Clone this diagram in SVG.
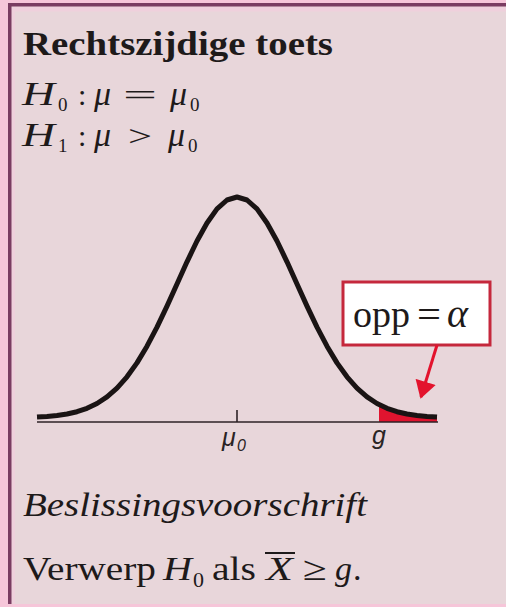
<svg xmlns="http://www.w3.org/2000/svg" width="506" height="607" viewBox="0 0 506 607">
<style>
.serif{font-family:"Liberation Serif","Times New Roman",serif;fill:#1e1a1a}
.it{font-style:italic}
.bold{font-weight:bold}
.sans{font-family:"Liberation Sans",Arial,sans-serif;font-style:italic;fill:#2a2424}
</style>
<defs>
<marker id="ah" viewBox="0 0 10 12" refX="9" refY="6" markerWidth="6" markerHeight="7" orient="auto" markerUnits="strokeWidth">
<path d="M0,0 L10,6 L0,12 z" fill="#e3132d"/>
</marker>
</defs>
<rect x="0" y="0" width="506" height="607" fill="#e8d6da"/>
<rect x="0" y="0" width="506" height="3" fill="#f6c6d9"/>
<rect x="0" y="0" width="8" height="607" fill="#f6c6d9"/>
<rect x="0" y="604" width="506" height="3" fill="#f6c6d9"/>
<rect x="8" y="6.5" width="498" height="5" fill="#efd0dc"/>
<rect x="11" y="6.5" width="4" height="597" fill="#efd0dc"/>
<rect x="8" y="3" width="498" height="3.5" fill="#7a3c61"/>
<rect x="8" y="3" width="3.5" height="601" fill="#7a3c61"/>

<g id="title">
<text class="serif bold" x="23" y="55" font-size="34" textLength="310" lengthAdjust="spacingAndGlyphs">Rechtszijdige toets</text>
</g>
<g id="h0">
<text class="serif it" x="22" y="105" font-size="33" textLength="33" lengthAdjust="spacingAndGlyphs">H</text>
<text class="serif" x="58" y="111" font-size="19">0</text>
<text class="serif" x="78" y="105" font-size="30">:</text>
<text class="serif it" x="94" y="105" font-size="34">μ</text>
<text class="serif" x="123" y="105" font-size="30" textLength="34" lengthAdjust="spacingAndGlyphs">=</text>
<text class="serif it" x="170" y="105" font-size="34">μ</text>
<text class="serif" x="190" y="111" font-size="19">0</text>
</g>
<g id="h1">
<text class="serif it" x="22" y="146" font-size="33" textLength="33" lengthAdjust="spacingAndGlyphs">H</text>
<text class="serif" x="58" y="152" font-size="19">1</text>
<text class="serif" x="78" y="146" font-size="30">:</text>
<text class="serif it" x="94" y="146" font-size="34">μ</text>
<text class="serif" x="128" y="146" font-size="30" textLength="24" lengthAdjust="spacingAndGlyphs">&gt;</text>
<text class="serif it" x="168" y="146" font-size="34">μ</text>
<text class="serif" x="188" y="152" font-size="19">0</text>
</g>

<g id="area">
<polygon points="379,404.5 387,408.3 397,411.7 407,414 417,415.5 427,416.5 437,417.1 437,422 379,422" fill="#e0142f"/>
</g>
<g id="axis">
<line x1="37" y1="422" x2="438" y2="422" stroke="#2e2226" stroke-width="1.6"/>
<line x1="237" y1="410" x2="237" y2="422" stroke="#2e2226" stroke-width="1.6"/>
</g>
<g id="curve">
<path d="M37,417.1 L47,416.5 L57,415.5 L67,414 L77,411.7 L87,408.3 L97,403.5 L107,396.9 L117,388.1 L127,376.8 L137,362.9 L147,346.2 L157,327.1 L167,306.1 L177,284 L187,261.8 L197,241 L207,223 L217,208.9 L227,200 L237,197 L247,200 L257,208.9 L267,223 L277,241 L287,261.8 L297,284 L307,306.1 L317,327.1 L327,346.2 L337,362.9 L347,376.8 L357,388.1 L367,396.9 L377,403.5 L387,408.3 L397,411.7 L407,414 L417,415.5 L427,416.5 L437,417.1" fill="none" stroke="#1a1414" stroke-width="5" stroke-linejoin="round"/>
</g>
<g id="labels">
<text class="sans" x="222" y="446" font-size="25">μ</text>
<text class="sans" x="237" y="451" font-size="16" font-style="normal">0</text>
<text class="sans" x="372" y="444" font-size="25">g</text>
</g>

<g id="callout">
<rect x="343" y="282" width="147" height="63" fill="#ffffff" stroke="#c5283c" stroke-width="3"/>
<text class="serif" x="353" y="327" font-size="37" textLength="57" lengthAdjust="spacingAndGlyphs">opp</text>
<text class="serif" x="417" y="327" font-size="37" textLength="24" lengthAdjust="spacingAndGlyphs">=</text>
<text class="serif it" x="447" y="327" font-size="40">α</text>
</g>
<g id="connectors">
<line x1="437" y1="345" x2="421" y2="397" stroke="#e3132d" stroke-width="3" marker-end="url(#ah)"/>
</g>

<g id="rule">
<text class="serif it" x="23" y="516" font-size="34" textLength="344" lengthAdjust="spacingAndGlyphs">Beslissingsvoorschrift</text>
<text class="serif" x="23" y="580" font-size="34" textLength="133" lengthAdjust="spacingAndGlyphs">Verwerp</text>
<text class="serif it" x="163" y="580" font-size="34" textLength="29" lengthAdjust="spacingAndGlyphs">H</text>
<text class="serif" x="193" y="587" font-size="22">0</text>
<text class="serif" x="212" y="580" font-size="34" textLength="44" lengthAdjust="spacingAndGlyphs">als</text>
<text class="serif it" x="266" y="580" font-size="34" textLength="27" lengthAdjust="spacingAndGlyphs">X</text>
<line x1="265" y1="553" x2="295" y2="553" stroke="#1e1a1a" stroke-width="2"/>
<text class="serif" x="303" y="580" font-size="34" textLength="24" lengthAdjust="spacingAndGlyphs">≥</text>
<text class="serif it" x="335" y="580" font-size="34">g</text>
<text class="serif" x="353" y="580" font-size="34">.</text>
</g>
</svg>
